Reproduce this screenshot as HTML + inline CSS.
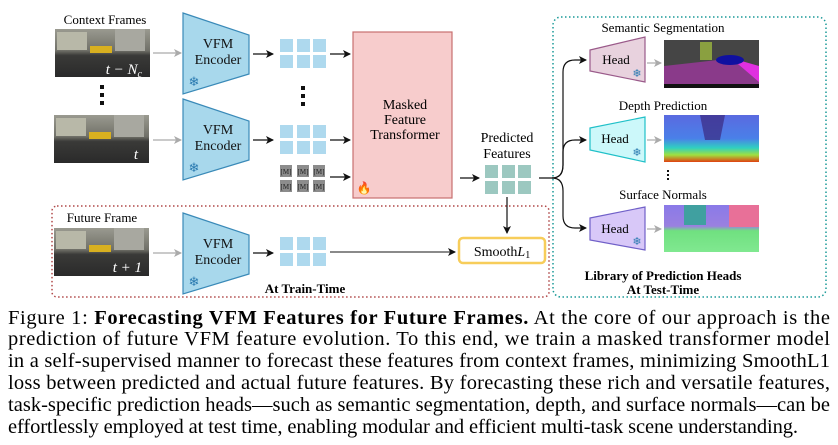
<!DOCTYPE html>
<html><head><meta charset="utf-8"><style>
html,body{margin:0;padding:0;background:#fff;}
svg{display:block;font-family:"Liberation Serif","Times New Roman",Times,serif;}
svg text{font-family:"Liberation Serif","Times New Roman",Times,serif;}
</style></head><body>
<svg width="838" height="445" viewBox="0 0 838 445" xmlns="http://www.w3.org/2000/svg" font-family="Liberation Serif, Times New Roman, serif">
<defs>
<marker id="ab" markerWidth="8" markerHeight="8" refX="7" refY="4" orient="auto" markerUnits="userSpaceOnUse"><path d="M0,0 L8,4 L0,8 L2,4 z" fill="#111"/></marker>
<marker id="ag" markerWidth="8" markerHeight="8" refX="7" refY="4" orient="auto" markerUnits="userSpaceOnUse"><path d="M0,0 L8,4 L0,8 L2,4 z" fill="#aaa"/></marker>
<linearGradient id="street" x1="0" y1="0" x2="0" y2="1">
<stop offset="0" stop-color="#9a9a90"/><stop offset="0.45" stop-color="#707068"/><stop offset="0.55" stop-color="#3a3a38"/><stop offset="1" stop-color="#2a2a2a"/></linearGradient>
<linearGradient id="depth" x1="0" y1="0" x2="0" y2="1">
<stop offset="0" stop-color="#5a6ae0"/><stop offset="0.5" stop-color="#4a80e8"/><stop offset="0.7" stop-color="#30d0c0"/><stop offset="0.85" stop-color="#a0e040"/><stop offset="1" stop-color="#e04010"/></linearGradient>
<linearGradient id="norm" x1="0" y1="0" x2="0" y2="1">
<stop offset="0" stop-color="#8a7ae8"/><stop offset="0.45" stop-color="#9a80e0"/><stop offset="0.55" stop-color="#70e080"/><stop offset="1" stop-color="#80e890"/></linearGradient>
<g id="enc"><path d="M0,0 L66,22 L66,61 L0,81 z" fill="#a8d8ec" stroke="#3a8ab8" stroke-width="1.2"/>
<text x="35" y="35" font-size="14" text-anchor="middle" fill="#111">VFM</text>
<text x="35" y="51" font-size="14" text-anchor="middle" fill="#111">Encoder</text>
<text x="11" y="73" font-size="13" text-anchor="middle" fill="#2a7ab0">❄</text></g>
<g id="grid" fill="#aed9ee"><rect x="0" y="0" width="13" height="13"/><rect x="17" y="0" width="13" height="13"/><rect x="33" y="0" width="13" height="13"/><rect x="0" y="16" width="13" height="13"/><rect x="17" y="16" width="13" height="13"/><rect x="33" y="16" width="13" height="13"/></g>
<g id="img"><rect width="95" height="48" fill="url(#street)"/><rect x="2" y="3" width="30" height="18" fill="#b8b8a8"/><rect x="60" y="0" width="30" height="22" fill="#a8a8a0"/><rect x="35" y="17" width="22" height="7" fill="#d8b020"/></g>
</defs>

<text x="105" y="24" font-size="13" text-anchor="middle">Context Frames</text>
<use href="#img" x="55" y="29"/>
<text x="142" y="74" font-size="15" font-style="italic" fill="#fff" text-anchor="end">t − N<tspan font-size="10" dy="3">c</tspan></text>
<g fill="#111"><rect x="100" y="85" width="4" height="4"/><rect x="100" y="93" width="4" height="4"/><rect x="100" y="101" width="4" height="4"/></g>
<use href="#img" x="54" y="115"/>
<text x="138" y="159" font-size="15" font-style="italic" fill="#fff" text-anchor="end">t</text>

<line x1="153" y1="53" x2="181" y2="53" stroke="#aaa" stroke-width="1.2" marker-end="url(#ag)"/>
<line x1="153" y1="140" x2="181" y2="140" stroke="#aaa" stroke-width="1.2" marker-end="url(#ag)"/>
<use href="#enc" x="183" y="13"/>
<use href="#enc" x="183" y="99"/>
<line x1="253" y1="54" x2="273" y2="54" stroke="#111" stroke-width="1.2" marker-end="url(#ab)"/>
<line x1="253" y1="140" x2="273" y2="140" stroke="#111" stroke-width="1.2" marker-end="url(#ab)"/>
<use href="#grid" x="280" y="39"/>
<g fill="#111"><rect x="301" y="86" width="4" height="4"/><rect x="301" y="94" width="4" height="4"/><rect x="301" y="102" width="4" height="4"/></g>
<use href="#grid" x="280" y="125"/>
<g fill="#8c8c8c"><rect x="280" y="165" width="12" height="12"/><rect x="297" y="165" width="12" height="12"/><rect x="313" y="165" width="12" height="12"/><rect x="280" y="180" width="12" height="12"/><rect x="297" y="180" width="12" height="12"/><rect x="313" y="180" width="12" height="12"/></g>
<g font-size="7" fill="#222" text-anchor="middle"><text x="286" y="174">[M]</text><text x="303" y="174">[M]</text><text x="319" y="174">[M]</text><text x="286" y="189">[M]</text><text x="303" y="189">[M]</text><text x="319" y="189">[M]</text></g>
<line x1="330" y1="54" x2="350" y2="54" stroke="#111" stroke-width="1.2" marker-end="url(#ab)"/>
<line x1="330" y1="140" x2="350" y2="140" stroke="#111" stroke-width="1.2" marker-end="url(#ab)"/>
<line x1="330" y1="177" x2="350" y2="177" stroke="#111" stroke-width="1.2" marker-end="url(#ab)"/>

<rect x="353" y="32" width="99" height="166" fill="#f7cccc" stroke="#c87070" stroke-width="1.2"/>
<g font-size="14" text-anchor="middle"><text x="405" y="109">Masked</text><text x="405" y="124">Feature</text><text x="405" y="139">Transformer</text></g>
<text x="364" y="192" font-size="12" text-anchor="middle" fill="#f07010">🔥</text>

<g font-size="14" text-anchor="middle"><text x="507" y="142">Predicted</text><text x="507" y="158">Features</text></g>
<line x1="460" y1="178" x2="479" y2="178" stroke="#111" stroke-width="1.2" marker-end="url(#ab)"/>
<g fill="#9cc8c0"><rect x="485" y="165" width="13" height="13"/><rect x="502" y="165" width="13" height="13"/><rect x="518" y="165" width="13" height="13"/><rect x="485" y="181" width="13" height="13"/><rect x="502" y="181" width="13" height="13"/><rect x="518" y="181" width="13" height="13"/></g>
<line x1="507" y1="197" x2="507" y2="233" stroke="#111" stroke-width="1.2" marker-end="url(#ab)"/>
<path d="M539,178 L552,178 Q563,178 563,165 L563,72 Q563,60 575,60 L586,60" fill="none" stroke="#111" stroke-width="1.2" marker-end="url(#ab)"/>
<path d="M552,178 Q563,178 563,165 L563,152 Q563,140 575,140 L586,140" fill="none" stroke="#111" stroke-width="1.2" marker-end="url(#ab)"/>
<path d="M552,178 Q563,178 563,191 L563,216 Q563,228 575,228 L586,228" fill="none" stroke="#111" stroke-width="1.2" marker-end="url(#ab)"/>

<rect x="52" y="206" width="497" height="91" rx="5" fill="none" stroke="#b04848" stroke-width="1.5" stroke-dasharray="1.5 2.5"/>
<text x="102" y="222" font-size="13" text-anchor="middle">Future Frame</text>
<use href="#img" x="54" y="228"/>
<text x="142" y="272" font-size="15" font-style="italic" fill="#fff" text-anchor="end">t + 1</text>
<line x1="153" y1="253" x2="181" y2="253" stroke="#aaa" stroke-width="1.2" marker-end="url(#ag)"/>
<use href="#enc" x="183" y="213"/>
<line x1="253" y1="253" x2="273" y2="253" stroke="#111" stroke-width="1.2" marker-end="url(#ab)"/>
<use href="#grid" x="280" y="237"/>
<line x1="330" y1="252" x2="455" y2="252" stroke="#444" stroke-width="1.2" marker-end="url(#ab)"/>
<rect x="459" y="238" width="86" height="25" rx="4" fill="#fff" stroke="#f7cd5a" stroke-width="2.5"/>
<text x="502" y="256" font-size="14" text-anchor="middle">Smooth<tspan font-style="italic">L</tspan><tspan font-size="10" dy="2">1</tspan></text>
<text x="305" y="293" font-size="13" font-weight="bold" text-anchor="middle">At Train-Time</text>

<rect x="553" y="17" width="273" height="280" rx="8" fill="none" stroke="#1a9a98" stroke-width="1.5" stroke-dasharray="1.5 2.5"/>
<text x="663" y="32" font-size="13" text-anchor="middle">Semantic Segmentation</text>
<path d="M590,50 L645,37 L645,82 L590,71 z" fill="#e8d2de" stroke="#9a5a8a" stroke-width="1.2"/>
<text x="616" y="64" font-size="13" text-anchor="middle">Head</text>
<text x="637" y="77" font-size="11" text-anchor="middle" fill="#2a7ab0">❄</text>
<line x1="647" y1="63" x2="661" y2="63" stroke="#aaa" stroke-width="1.2" marker-end="url(#ag)"/>
<rect x="664" y="40" width="95" height="48" fill="#454545"/>
<path d="M664,66 L700,62 L735,58 L759,72 L759,85 L664,85 z" fill="#8a3a8a"/>
<path d="M731,58 L759,66 L759,82 z" fill="#e030e0"/>
<rect x="700" y="42" width="12" height="18" fill="#8aa040"/><ellipse cx="730" cy="60" rx="14" ry="5" fill="#1010a0"/>
<rect x="664" y="84" width="95" height="4" fill="#111"/>

<text x="663" y="110" font-size="13" text-anchor="middle">Depth Prediction</text>
<path d="M590,128 L645,117 L645,162 L590,150 z" fill="#ccf8fa" stroke="#20c0c8" stroke-width="1.2"/>
<text x="615" y="143" font-size="13" text-anchor="middle">Head</text>
<text x="637" y="156" font-size="11" text-anchor="middle" fill="#2a7ab0">❄</text>
<line x1="647" y1="140" x2="661" y2="140" stroke="#aaa" stroke-width="1.2" marker-end="url(#ag)"/>
<rect x="664" y="115" width="95" height="47" fill="url(#depth)"/>
<path d="M700,115 L725,115 L720,140 L705,140 z" fill="#3a2a80" opacity="0.7"/>
<g fill="#111"><rect x="667" y="170" width="2" height="2"/><rect x="667" y="174" width="2" height="2"/><rect x="667" y="178" width="2" height="2"/></g>

<text x="663" y="199" font-size="13" text-anchor="middle">Surface Normals</text>
<path d="M590,218 L645,207 L645,250 L590,240 z" fill="#d8c8f8" stroke="#7060c8" stroke-width="1.2"/>
<text x="615" y="233" font-size="13" text-anchor="middle">Head</text>
<text x="637" y="245" font-size="11" text-anchor="middle" fill="#2a7ab0">❄</text>
<line x1="647" y1="229" x2="661" y2="229" stroke="#aaa" stroke-width="1.2" marker-end="url(#ag)"/>
<rect x="664" y="205" width="95" height="47" fill="url(#norm)"/>
<rect x="729" y="205" width="30" height="22" fill="#e87098"/><rect x="684" y="205" width="22" height="20" fill="#40a0a0"/>

<g font-size="13" font-weight="bold" text-anchor="middle"><text x="663" y="280">Library of Prediction Heads</text><text x="663" y="294">At Test-Time</text></g>

<g font-size="20.5" fill="#000" font-family="Liberation Serif, Times New Roman, serif">
<text x="8" y="324" textLength="822" lengthAdjust="spacing">Figure 1: <tspan font-weight="bold">Forecasting VFM Features for Future Frames.</tspan> At the core of our approach is the</text>
<text x="8" y="345" textLength="822" lengthAdjust="spacing">prediction of future VFM feature evolution. To this end, we train a masked transformer model</text>
<text x="8" y="367" textLength="822" lengthAdjust="spacing">in a self-supervised manner to forecast these features from context frames, minimizing SmoothL1</text>
<text x="8" y="389" textLength="822" lengthAdjust="spacing">loss between predicted and actual future features. By forecasting these rich and versatile features,</text>
<text x="8" y="411" textLength="822" lengthAdjust="spacing">task-specific prediction heads—such as semantic segmentation, depth, and surface normals—can be</text>
<text x="8" y="433" textLength="790" lengthAdjust="spacing">effortlessly employed at test time, enabling modular and efficient multi-task scene understanding.</text>
</g>
</svg>
</body></html>
